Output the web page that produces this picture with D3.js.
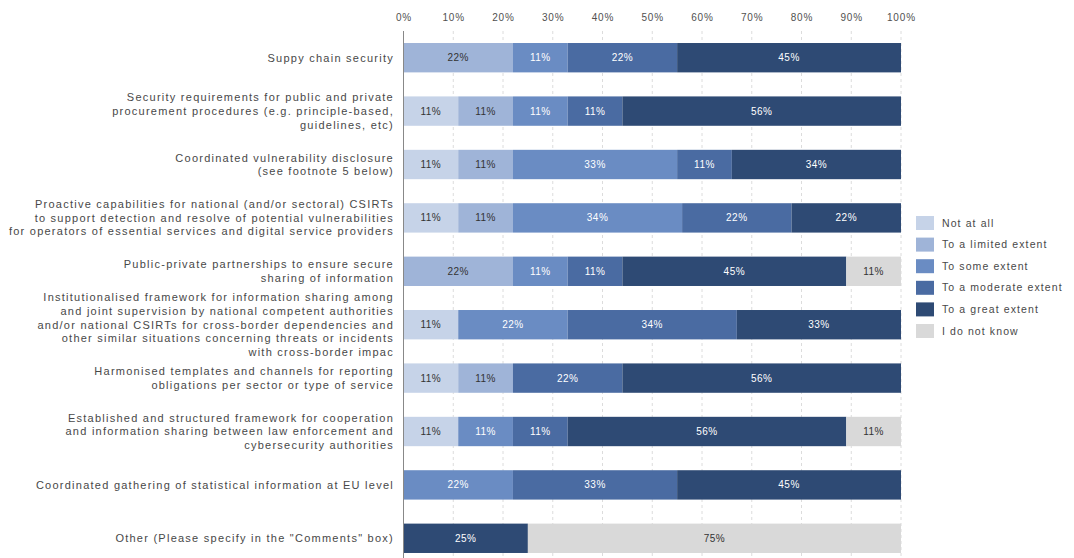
<!DOCTYPE html>
<html>
<head>
<meta charset="utf-8">
<script src="https://cdn.jsdelivr.net/npm/d3@7"></script>
<style>
  body { margin: 0; background: #fff; }
  svg { display: block; font-family: "Liberation Sans", Arial, sans-serif; }
</style>
</head>
<body>
<svg id="chart"></svg>
<script>
const svgWidth = 1074;
const svgHeight = 558;

// categories (each label split into its lines)
const categories = [
  ["Suppy chain security"],
  ["Security requirements for public and private", "procurement procedures (e.g. principle-based,", "guidelines, etc)"],
  ["Coordinated vulnerability disclosure", "(see footnote 5 below)"],
  ["Proactive capabilities for national (and/or sectoral) CSIRTs", "to support detection and resolve of potential vulnerabilities", "for operators of essential services and digital service providers"],
  ["Public-private partnerships to ensure secure", "sharing of information"],
  ["Institutionalised framework for information sharing among", "and joint supervision by national competent authorities", "and/or national CSIRTs for cross-border dependencies and", "other similar situations concerning threats or incidents", "with cross-border impac"],
  ["Harmonised templates and channels for reporting", "obligations per sector or type of service"],
  ["Established and structured framework for cooperation", "and information sharing between  law enforcement  and", "cybersecurity authorities"],
  ["Coordinated gathering of statistical information at EU level"],
  ["Other  (Please specify in the \"Comments\"  box)"]
];

const seriesNames = ["Not at all", "To a limited extent", "To some extent", "To a moderate extent", "To a great extent", "I do not know"];
const seriesColors = ["#c6d3e8", "#9fb4d8", "#6a8cc3", "#4a6ba2", "#2e4a74", "#d9d9d9"];
const labelColors = ["#333", "#333", "#fff", "#fff", "#fff", "#333"];

// values in % per series, one entry per category
const notAtAll  = [0, 11, 11, 11, 0, 11, 11, 11, 0, 0];
const limited   = [22, 11, 11, 11, 22, 0, 11, 0, 0, 0];
const some      = [11, 11, 33, 34, 11, 22, 0, 11, 22, 0];
const moderate  = [22, 11, 11, 22, 11, 34, 22, 11, 33, 0];
const great     = [45, 56, 34, 22, 45, 33, 56, 56, 45, 25];
const dontKnow  = [0, 0, 0, 0, 11, 0, 0, 11, 0, 75];

const xTicks = [0, 10, 20, 30, 40, 50, 60, 70, 80, 90, 100];

const seriesValues = [notAtAll, limited, some, moderate, great, dontKnow];
const table = categories.map((c, i) => {
  const row = { id: i };
  seriesNames.forEach((s, k) => { row[s] = seriesValues[k][i]; });
  return row;
});
const stacked = d3.stack().keys(seriesNames)(table);

const svg = d3.select("#chart").attr("width", svgWidth).attr("height", svgHeight);

const xScale = d3.scaleLinear().domain([0, 100]).range([403.5, 901]);
const yScale = d3.scaleBand()
  .domain(d3.range(categories.length))
  .range([31, 565])
  .paddingInner(0.45)
  .paddingOuter(0.225);

// vertical dashed gridlines
svg.append("g")
  .selectAll("line")
  .data(xTicks.slice(1))
  .join("line")
  .attr("x1", (d) => xScale(d))
  .attr("x2", (d) => xScale(d))
  .attr("y1", 31)
  .attr("y2", svgHeight)
  .attr("stroke", "#dcdcdc")
  .attr("stroke-dasharray", "3,3");

// top axis
const xAxis = svg.append("g")
  .attr("transform", "translate(0,29)")
  .call(d3.axisTop(xScale).tickValues(xTicks).tickFormat((d) => d + "%").tickSize(0).tickPadding(8));
xAxis.select(".domain").remove();
xAxis.selectAll("text")
  .style("font-size", "10px")
  .style("letter-spacing", "0.9px")
  .attr("fill", "#505050");

// bars
const layer = svg.append("g")
  .selectAll("g")
  .data(stacked)
  .join("g")
  .attr("fill", (d, k) => seriesColors[k]);

layer.selectAll("rect")
  .data((d) => d)
  .join("rect")
  .attr("x", (d) => xScale(d[0]))
  .attr("y", (d, i) => yScale(i))
  .attr("width", (d) => xScale(d[1]) - xScale(d[0]))
  .attr("height", yScale.bandwidth());

// segment labels
layer.each(function (s, k) {
  d3.select(this).selectAll("text")
    .data(s.filter((d) => d[1] - d[0] > 0).map((d) => ({ d, i: d.data.id })))
    .join("text")
    .attr("x", (o) => (xScale(o.d[0]) + xScale(o.d[1])) / 2)
    .attr("y", (o) => yScale(o.i) + yScale.bandwidth() / 2)
    .attr("dy", "0.35em")
    .attr("text-anchor", "middle")
    .attr("fill", labelColors[k])
    .style("font-size", "10px")
    .style("letter-spacing", "0.5px")
    .text((o) => (o.d[1] - o.d[0]) + "%");
});

// left axis line
svg.append("line")
  .attr("x1", xScale(0))
  .attr("x2", xScale(0))
  .attr("y1", 31)
  .attr("y2", svgHeight)
  .attr("stroke", "#888");

// category labels
const lineH = 13.6;
const catText = svg.append("g")
  .selectAll("text")
  .data(categories)
  .join("text")
  .attr("text-anchor", "end")
  .attr("fill", "#484848")
  .style("font-size", "11px")
  .style("letter-spacing", "1.25px");

catText.each(function (lines, i) {
  const cy = yScale(i) + yScale.bandwidth() / 2;
  const y0 = cy - (lines.length - 1) * lineH / 2;
  d3.select(this).selectAll("tspan")
    .data(lines)
    .join("tspan")
    .attr("x", 394)
    .attr("y", (l, j) => y0 + j * lineH)
    .attr("dy", "0.35em")
    .text((l) => l);
});

// legend
const legend = svg.append("g")
  .selectAll("g")
  .data(seriesNames)
  .join("g")
  .attr("transform", (d, k) => `translate(916, ${216 + k * 21.6})`);

legend.append("rect")
  .attr("width", 18)
  .attr("height", 14)
  .attr("fill", (d, k) => seriesColors[k]);

legend.append("text")
  .attr("x", 26)
  .attr("y", 7)
  .attr("dy", "0.35em")
  .attr("fill", "#484848")
  .style("font-size", "10.5px")
  .style("letter-spacing", "1.1px")
  .text((d) => d);
</script>
</body>
</html>
